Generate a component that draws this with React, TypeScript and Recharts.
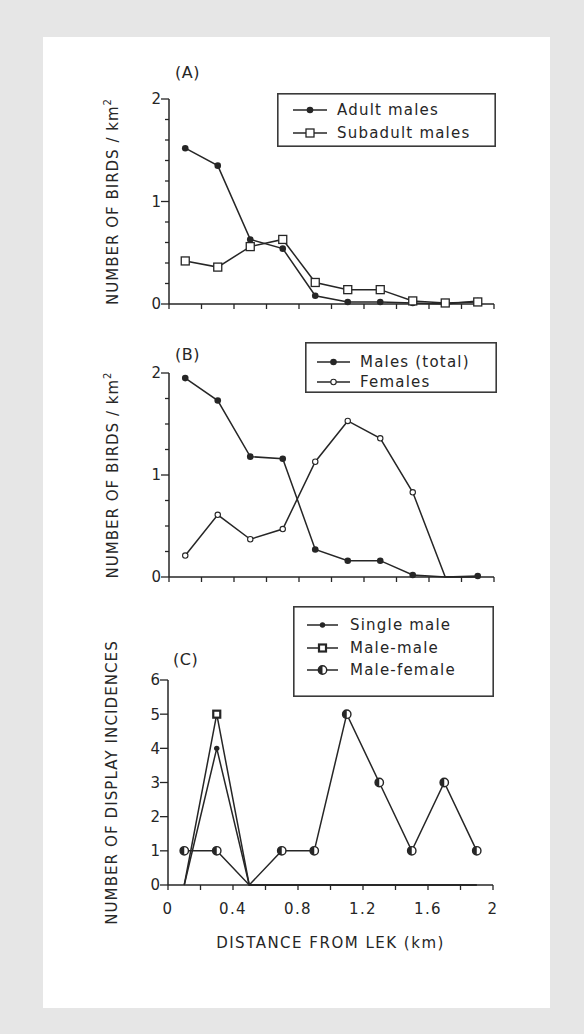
import React from 'react';
import { LineChart, Line, XAxis, YAxis } from 'recharts';

// distance classes (km from lek), midpoints of 0.2 km bands
const distances = [0.1, 0.3, 0.5, 0.7, 0.9, 1.1, 1.3, 1.5, 1.7, 1.9];

// (A) birds / km2
const adultMales = [1.52, 1.35, 0.63, 0.54, 0.08, 0.02, 0.02, 0.01, 0, 0.03];
const subadultMales = [0.42, 0.36, 0.56, 0.63, 0.21, 0.14, 0.14, 0.03, 0.01, 0.02];

// (B) birds / km2
const malesTotal = [1.95, 1.73, 1.18, 1.16, 0.27, 0.16, 0.16, 0.02, 0, 0.01];
const females = [0.21, 0.61, 0.37, 0.47, 1.13, 1.53, 1.36, 0.83, 0, 0];

// (C) display incidences
const singleMale = [0, 4, 0, 0, 0, 0, 0, 0, 0, 0];
const maleMale = [0, 5, 0, 0, 0, 0, 0, 0, 0, 0];
const maleFemale = [1, 1, 0, 1, 1, 5, 3, 1, 3, 1];

const xTicks = [0, 0.2, 0.4, 0.6, 0.8, 1, 1.2, 1.4, 1.6, 1.8, 2];
const xTickLabels = [0, 0.4, 0.8, 1.2, 1.6, 2];
const yTicksA = [0, 0.2, 0.4, 0.6, 0.8, 1, 1.2, 1.4, 1.6, 1.8, 2];
const yTicksB = [0, 0.25, 0.5, 0.75, 1, 1.25, 1.5, 1.75, 2];
const yLabelsAB = [0, 1, 2];
const yTicksC = [0, 1, 2, 3, 4, 5, 6];

const INK = '#262626';
const TEXT = '#262626';
const FONT = '"DejaVu Sans", Verdana, sans-serif';
const LW = 1.5;

const dataA = distances.map((d, i) => ({ d, adult: adultMales[i], subadult: subadultMales[i] }));
const dataB = distances.map((d, i) => ({ d, males: malesTotal[i], females: females[i] }));
const dataC = distances.map((d, i) => ({
  d,
  single: singleMale[i],
  mm: maleMale[i],
  mf: maleFemale[i],
}));

type MarkerKind = 'dot' | 'smallDot' | 'square' | 'ring' | 'boldSquare' | 'half';

function Marker({ kind, cx, cy }: { kind: MarkerKind; cx: number; cy: number }) {
  switch (kind) {
    case 'dot':
      return <circle cx={cx} cy={cy} r={3.3} fill={INK} />;
    case 'smallDot':
      return <circle cx={cx} cy={cy} r={2.7} fill={INK} />;
    case 'square':
      return <rect x={cx - 4} y={cy - 4} width={8} height={8} fill="#fff" stroke={INK} strokeWidth={1.3} />;
    case 'ring':
      return <circle cx={cx} cy={cy} r={2.7} fill="#fff" stroke={INK} strokeWidth={1.1} />;
    case 'boldSquare':
      return <rect x={cx - 3.5} y={cy - 3.5} width={7} height={7} fill="#fff" stroke={INK} strokeWidth={2.2} />;
    case 'half':
      return (
        <g>
          <circle cx={cx} cy={cy} r={4.2} fill="#fff" stroke={INK} strokeWidth={1.4} />
          <path d={`M${cx},${cy - 4.2} A4.2,4.2 0 0,0 ${cx},${cy + 4.2} Z`} fill={INK} />
        </g>
      );
  }
  return null;
}

function dotFor(kind: MarkerKind, hideZero = false) {
  return (props: any) => {
    const { cx, cy, index } = props;
    const v = props.payload && props.dataKey ? props.payload[props.dataKey] : props.value;
    if (cx == null || cy == null || (hideZero && v === 0)) return <g key={index} />;
    return (
      <g key={index}>
        <Marker kind={kind} cx={cx} cy={cy} />
      </g>
    );
  };
}

const Y_MARGIN = 8;
const X_MARGIN = 24;

function makeYTick(labels: number[]) {
  return (props: any) => {
    const { x, y, payload, index } = props;
    const v = payload.value;
    const major = labels.includes(v);
    const ax = x + Y_MARGIN;
    return (
      <g key={index}>
        <line x1={ax - (major ? 8 : 4)} x2={ax} y1={y} y2={y} stroke={INK} strokeWidth={1.3} />
        {major && (
          <text x={x} y={y} dy="0.36em" textAnchor="end" fontFamily={FONT} fontSize={15} fill={TEXT}>
            {String(v)}
          </text>
        )}
      </g>
    );
  };
}

function makeXTick(labels: number[]) {
  return (props: any) => {
    const { x, y, payload, index } = props;
    const v = payload.value;
    const ay = y - X_MARGIN;
    return (
      <g key={index}>
        <line x1={x} x2={x} y1={ay} y2={ay + 5} stroke={INK} strokeWidth={1.3} />
        {labels.includes(v) && (
          <text
            x={x}
            y={y}
            dy="0.36em"
            textAnchor="middle"
            fontFamily={FONT}
            fontSize={15}
            letterSpacing={1.3}
            fill={TEXT}
          >
            {String(v)}
          </text>
        )}
      </g>
    );
  };
}

function yTitle(text: string, sup?: string, spacing = 1) {
  return (props: any) => {
    const { x, y, width, height } = props.viewBox;
    const cx = x + width - 56;
    const cy = y + height / 2;
    return (
      <text
        x={cx}
        y={cy}
        transform={`rotate(-90 ${cx} ${cy})`}
        textAnchor="middle"
        dominantBaseline="central"
        fontFamily={FONT}
        fontSize={15}
        letterSpacing={spacing}
        fill={TEXT}
      >
        {text}
        {sup && (
          <tspan dy={-6} fontSize={10}>
            {sup}
          </tspan>
        )}
      </text>
    );
  };
}

function xTitle(text: string) {
  return (props: any) => {
    const { x, y, width } = props.viewBox;
    return (
      <text
        x={x + width / 2}
        y={y + 58}
        textAnchor="middle"
        dominantBaseline="central"
        fontFamily={FONT}
        fontSize={15}
        letterSpacing={1.5}
        fill={TEXT}
      >
        {text}
      </text>
    );
  };
}

interface LegendItem {
  name: string;
  kind: MarkerKind;
}

function BoxLegend({
  left,
  top,
  width,
  height,
  rows,
  lineX,
  textX,
  items,
}: {
  left: number;
  top: number;
  width: number;
  height: number;
  rows: number[];
  lineX: [number, number];
  textX: number;
  items: LegendItem[];
}) {
  return (
    <svg style={{ position: 'absolute', left, top }} width={width} height={height}>
      <rect x={0.8} y={0.8} width={width - 1.6} height={height - 1.6} fill="#fff" stroke="#3a3a3a" strokeWidth={1.6} />
      {items.map((it, i) => (
        <g key={it.name}>
          <line x1={lineX[0]} x2={lineX[1]} y1={rows[i]} y2={rows[i]} stroke={INK} strokeWidth={LW} />
          <Marker kind={it.kind} cx={(lineX[0] + lineX[1]) / 2} cy={rows[i]} />
          <text
            x={textX}
            y={rows[i]}
            dominantBaseline="central"
            fontFamily={FONT}
            fontSize={15}
            letterSpacing={1.2}
            fill={TEXT}
          >
            {it.name}
          </text>
        </g>
      ))}
    </svg>
  );
}

function PanelTag({ text, left, top }: { text: string; left: number; top: number }) {
  return (
    <div
      style={{
        position: 'absolute',
        left,
        top,
        fontFamily: FONT,
        fontSize: 16,
        lineHeight: '20px',
        color: TEXT,
        letterSpacing: 0.5,
      }}
    >
      {text}
    </div>
  );
}

export default function App() {
  return (
    <div style={{ position: 'relative', width: 584, height: 1034, background: '#e6e6e6', overflow: 'hidden' }}>
      <style>{'body{margin:0}'}</style>
      <div style={{ position: 'absolute', left: 43, top: 37, width: 507, height: 971, background: '#fff' }} />

      {/* (A) adult vs subadult males */}
      <div style={{ position: 'absolute', left: 0, top: 0 }}>
        <LineChart width={584} height={340} data={dataA} margin={{ top: 99, right: 90, bottom: 0, left: 0 }}>
          <XAxis
            dataKey="d"
            type="number"
            domain={[0, 2]}
            ticks={xTicks}
            height={36}
            tickSize={0}
            tickMargin={X_MARGIN}
            tickLine={false}
            tick={makeXTick([])}
            axisLine={{ stroke: INK, strokeWidth: LW }}
            interval={0}
          />
          <YAxis
            type="number"
            domain={[0, 2]}
            ticks={yTicksA}
            width={169}
            tickSize={0}
            tickMargin={Y_MARGIN}
            tickLine={false}
            tick={makeYTick(yLabelsAB)}
            axisLine={{ stroke: INK, strokeWidth: LW }}
            interval={0}
            label={{ content: yTitle('NUMBER OF BIRDS / km', '2', 1) }}
          />
          <Line dataKey="adult" stroke={INK} strokeWidth={LW} dot={dotFor('dot', true)} isAnimationActive={false} />
          <Line dataKey="subadult" stroke={INK} strokeWidth={LW} dot={dotFor('square')} isAnimationActive={false} />
        </LineChart>
      </div>

      {/* (B) males total vs females */}
      <div style={{ position: 'absolute', left: 0, top: 330 }}>
        <LineChart width={584} height={280} data={dataB} margin={{ top: 43, right: 90, bottom: 0, left: 0 }}>
          <XAxis
            dataKey="d"
            type="number"
            domain={[0, 2]}
            ticks={xTicks}
            height={33}
            tickSize={0}
            tickMargin={X_MARGIN}
            tickLine={false}
            tick={makeXTick([])}
            axisLine={{ stroke: INK, strokeWidth: LW }}
            interval={0}
          />
          <YAxis
            type="number"
            domain={[0, 2]}
            ticks={yTicksB}
            width={169}
            tickSize={0}
            tickMargin={Y_MARGIN}
            tickLine={false}
            tick={makeYTick(yLabelsAB)}
            axisLine={{ stroke: INK, strokeWidth: LW }}
            interval={0}
            label={{ content: yTitle('NUMBER OF BIRDS / km', '2', 1) }}
          />
          <Line dataKey="males" stroke={INK} strokeWidth={LW} dot={dotFor('dot', true)} isAnimationActive={false} />
          <Line dataKey="females" stroke={INK} strokeWidth={LW} dot={dotFor('ring', true)} isAnimationActive={false} />
        </LineChart>
      </div>

      {/* (C) display incidences */}
      <div style={{ position: 'absolute', left: 0, top: 600 }}>
        <LineChart width={584} height={360} data={dataC} margin={{ top: 80, right: 91, bottom: 0, left: 0 }}>
          <XAxis
            dataKey="d"
            type="number"
            domain={[0, 2]}
            ticks={xTicks}
            height={75}
            tickSize={0}
            tickMargin={X_MARGIN}
            tickLine={false}
            tick={makeXTick(xTickLabels)}
            axisLine={{ stroke: INK, strokeWidth: LW }}
            interval={0}
            label={{ content: xTitle('DISTANCE FROM LEK (km)') }}
          />
          <YAxis
            type="number"
            domain={[0, 6]}
            ticks={yTicksC}
            width={168}
            tickSize={0}
            tickMargin={Y_MARGIN}
            tickLine={false}
            tick={makeYTick(yTicksC)}
            axisLine={{ stroke: INK, strokeWidth: LW }}
            interval={0}
            label={{ content: yTitle('NUMBER OF DISPLAY INCIDENCES', undefined, 1.1) }}
          />
          <Line dataKey="mf" stroke={INK} strokeWidth={LW} dot={dotFor('half', true)} isAnimationActive={false} />
          <Line dataKey="single" stroke={INK} strokeWidth={LW} dot={dotFor('smallDot', true)} isAnimationActive={false} />
          <Line dataKey="mm" stroke={INK} strokeWidth={LW} dot={dotFor('boldSquare', true)} isAnimationActive={false} />
        </LineChart>
      </div>

      <PanelTag text="(A)" left={175} top={63} />
      <PanelTag text="(B)" left={175} top={345} />
      <PanelTag text="(C)" left={173} top={650} />

      <BoxLegend
        left={277}
        top={93}
        width={219}
        height={54}
        rows={[17, 40]}
        lineX={[16, 50]}
        textX={60}
        items={[
          { name: 'Adult males', kind: 'dot' },
          { name: 'Subadult males', kind: 'square' },
        ]}
      />
      <BoxLegend
        left={305}
        top={342}
        width={192}
        height={51}
        rows={[20, 40]}
        lineX={[12, 45]}
        textX={55}
        items={[
          { name: 'Males (total)', kind: 'dot' },
          { name: 'Females', kind: 'ring' },
        ]}
      />
      <BoxLegend
        left={293}
        top={606}
        width={201}
        height={91}
        rows={[19, 42, 64]}
        lineX={[14, 45]}
        textX={57}
        items={[
          { name: 'Single male', kind: 'smallDot' },
          { name: 'Male-male', kind: 'boldSquare' },
          { name: 'Male-female', kind: 'half' },
        ]}
      />
    </div>
  );
}
